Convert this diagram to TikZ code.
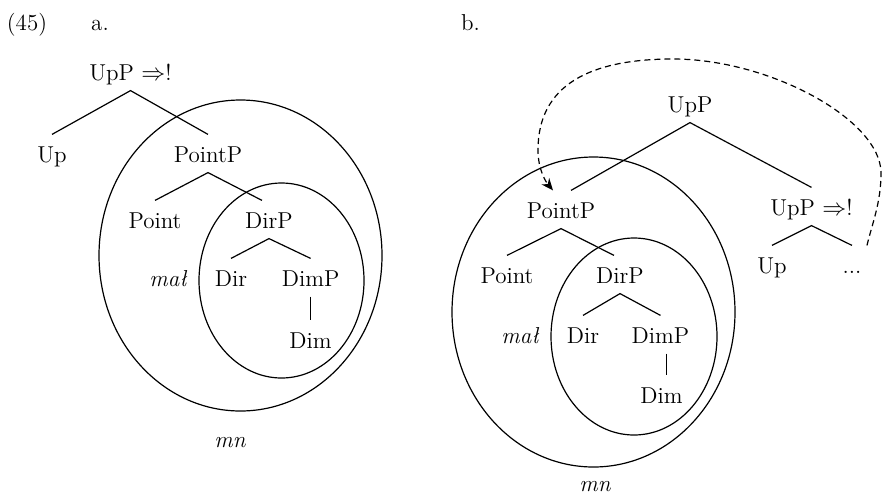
\documentclass[tikz,border=0pt]{standalone}
\usepackage{amsmath}
\usepackage{amssymb}
\usetikzlibrary{arrows.meta}

\begin{document}
\begin{tikzpicture}[x=0.5pt, y=-0.5pt, line width=0.6pt,
    font=\fontsize{11.5}{14}\selectfont,
    cat/.style={text height=11pt, text depth=2.5pt, inner sep=2.5pt, anchor=base}]
    \useasboundingbox (0,0) rectangle (882,493);

    % Example labels
    \node[cat] (ex) at (27,30) {(45)};
    \node[cat] (pa) at (100,30) {a.};
    \node[cat] (pb) at (470.5,30) {b.};

    % Tree a
    \node[cat] (rootA) at (130.5,80) {UpP $\Rightarrow$!};
    \node[cat] (upA) at (52,162) {Up};
    \node[cat] (pointpA) at (208,162) {PointP};
    \node[cat] (pointA) at (155,228) {Point};
    \node[cat] (dirpA) at (269,228) {DirP};
    \node[cat] (dirA) at (231,286) {Dir};
    \node[cat] (dimpA) at (310.6,286) {DimP};
    \node[cat] (dimA) at (310.6,348) {Dim};
    \node[cat] (malA) at (168,286) {\itshape mał};
    \node[cat] (mnA) at (230,447) {\itshape mn};

    \draw (upA.north) -- (rootA.south) -- (pointpA.north);
    \draw (pointA.north) -- (pointpA.south) -- ([xshift=-3.5pt]dirpA.north);
    \draw (dirA.north) -- (dirpA.south) -- (dimpA.north);
    \draw (dimpA.south) -- (dimA.north);

    % Sets a
    \draw (240.5,255.5) ellipse [x radius=141.5, y radius=155.5];
    \draw (281.5,280.5) ellipse [x radius=82.5, y radius=97.5];

    % Tree b
    \node[cat] (rootB) at (690,112) {UpP};
    \node[cat] (pointpB) at (561,218) {PointP};
    \node[cat] (upbangB) at (811.5,215) {UpP $\Rightarrow$!};
    \node[cat] (upB) at (772,273) {Up};
    \node[cat] (dotsB) at (852,273) {...};
    \node[cat] (pointB) at (507,283) {Point};
    \node[cat] (dirpB) at (620,283) {DirP};
    \node[cat] (dirB) at (583,343) {Dir};
    \node[cat] (dimpB) at (660.5,343) {DimP};
    \node[cat] (dimB) at (661.5,403) {Dim};
    \node[cat] (malB) at (520,343) {\itshape mał};
    \node[cat] (mnB) at (595,491) {\itshape mn};

    \draw ([xshift=5pt]pointpB.north) -- (rootB.south) -- (upbangB.north);
    \draw (upB.north) -- (upbangB.south) -- (dotsB.north);
    \draw (pointB.north) -- (pointpB.south) -- ([xshift=-3pt]dirpB.north);
    \draw (dirB.north) -- (dirpB.south) -- (dimpB.north);
    \draw ([xshift=3pt]dimpB.south) -- ([xshift=2.5pt]dimB.north);

    % Sets b
    \draw (593.5,312) ellipse [x radius=141.5, y radius=155];
    \draw (634,336.5) ellipse [x radius=83, y radius=98.5];

    % Movement
    \draw[dash pattern=on 3pt off 2pt, -{Stealth[length=6pt, width=5pt]}]
        (dotsB.north east) .. controls (872,224) and (881,203) .. (881,173)
        .. controls (881,120) and (770,59) .. (673,59)
        .. controls (590,59) and (538,85) .. (538,150)
        .. controls (538,170) and (546,182) .. ([xshift=-4pt]pointpB.north);
\end{tikzpicture}
\end{document}
